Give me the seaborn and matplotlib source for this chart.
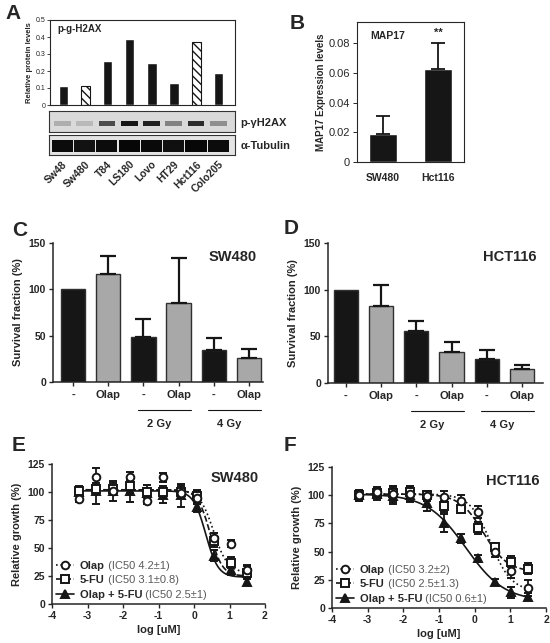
import numpy as np
import pandas as pd
import matplotlib
matplotlib.use('Agg')
import matplotlib.pyplot as plt
from matplotlib.lines import Line2D
import seaborn as sns

sns.set_style('ticks')
plt.rcParams['font.family'] = ['Liberation Sans', 'DejaVu Sans']
plt.rcParams['hatch.linewidth'] = 1.0

# ---- data ----
# A: relative p-gH2AX levels per cell line + blot band strength
cell_lines = ['Sw48', 'Sw480', 'T84', 'LS180', 'Lovo', 'HT29', 'Hct116', 'Colo205']
ph2ax_levels = [0.11, 0.11, 0.26, 0.39, 0.25, 0.13, 0.37, 0.19]
hatched_lines = ['Sw480', 'Hct116']
ph2ax_band = [0.2, 0.15, 0.65, 0.9, 0.85, 0.4, 0.8, 0.35]
tubulin_band = [0.95, 0.92, 0.95, 0.97, 0.96, 0.93, 0.97, 0.95]

# B: MAP17 expression
map17_lines = ['SW480', 'Hct116']
map17_expr = [0.019, 0.063]
map17_err = [0.012, 0.017]

# C / D: survival fraction
treat_labels = ['-', 'Olap', '-', 'Olap', '-', 'Olap']
dose_groups = ['2 Gy', '4 Gy']
sw480_surv = [100, 117, 49, 85, 35, 26]
sw480_surv_err = [0, 19, 19, 49, 13, 10]
hct116_surv = [100, 83, 56, 33, 26, 15]
hct116_surv_err = [0, 22, 10, 11, 9, 4]

# E / F: dose response
log_dose = [-3.25, -2.75, -2.28, -1.8, -1.33, -0.87, -0.38, 0.09, 0.56, 1.03, 1.5]
sw480_olap = [94, 113, 101, 113, 92, 113, 99, 95, 59, 54, 30]
sw480_olap_err = [3, 8, 4, 5, 3, 4, 4, 6, 4, 3, 5]
sw480_fu = [101, 103, 103, 105, 100, 100, 100, 96, 56, 37, 28]
sw480_fu_err = [4, 5, 5, 6, 4, 5, 5, 6, 5, 5, 6]
sw480_combo = [100, 101, 101, 101, 99, 97, 97, 87, 43, 30, 20]
sw480_combo_err = [3, 12, 9, 10, 7, 7, 10, 5, 5, 4, 3]
hct116_olap = [100, 103, 101, 101, 99, 98, 95, 85, 50, 33, 18]
hct116_olap_err = [4, 4, 7, 6, 4, 6, 5, 5, 5, 6, 7]
hct116_fu = [100, 102, 102, 103, 100, 90, 88, 71, 54, 41, 35]
hct116_fu_err = [5, 4, 6, 5, 4, 5, 4, 5, 4, 5, 5]
hct116_combo = [100, 101, 99, 100, 93, 75, 62, 44, 23, 14, 10]
hct116_combo_err = [5, 5, 7, 6, 7, 8, 4, 3, 3, 5, 3]

# fitted curves (top, bottom, midpoint, hill)
sw480_fit = {'olap': (102, 28, 0.55, 2.2), 'fu': (102, 25, 0.45, 2.5), 'combo': (101, 24, 0.33, 2.5)}
hct116_fit = {'olap': (101, 15, 0.45, 1.5), 'fu': (101, 32, 0.25, 1.3), 'combo': (101, 6, -0.25, 0.8)}
sw480_ic50 = ['(IC50 4.2\u00b11)', '(IC50 3.1\u00b10.8)', '(IC50 2.5\u00b11)']
hct116_ic50 = ['(IC50 3.2\u00b12)', '(IC50 2.5\u00b11.3)', '(IC50 0.6\u00b11)']

BLACK = '#161616'
GREY = '#a8a8a8'

fig = plt.figure(figsize=(5.5, 6.43), dpi=100)


def px(l, t, r, b):
    # figure axes from pixel box
    return fig.add_axes([l / 550, 1 - b / 643, (r - l) / 550, (b - t) / 643])


# ---------- A ----------
axA = px(50, 20, 235, 105)
dfA = pd.DataFrame({'line': cell_lines, 'level': ph2ax_levels})
sns.barplot(data=dfA, x='line', y='level', color=BLACK, width=0.42, saturation=1, ax=axA)
for patch, name in zip(axA.patches, cell_lines):
    if name in hatched_lines:
        patch.set_facecolor('white')
        patch.set_edgecolor(BLACK)
        patch.set_hatch('\\\\\\\\')
        patch.set_linewidth(0.8)
axA.set_xlim(-0.6, 7.75)
axA.set_ylim(0, 0.5)
axA.set_yticks([0, 0.1, 0.2, 0.3, 0.4, 0.5])
axA.set_yticklabels(['0', '0.1', '0.2', '0.3', '0.4', '0.5'], fontsize=5)
axA.set_xticks([])
axA.set_xlabel('')
axA.set_ylabel('Relative protein levels', fontsize=5.5, fontweight='bold', labelpad=2)
axA.tick_params(axis='y', length=2, width=0.6, pad=1)
for s in axA.spines.values():
    s.set_linewidth(0.8)
axA.text(0.04, 0.9, 'p-g-H2AX', transform=axA.transAxes, fontsize=7, fontweight='bold', va='center')

blot1 = px(49, 111, 235, 132)
blot2 = px(49, 135, 235, 155)
for ax, band, bot, hgt, wid, bg in [(blot1, ph2ax_band, 0.3, 0.22, 0.75, '#dadada'),
                                     (blot2, tubulin_band, 0.15, 0.62, 0.95, '#e4e4e4')]:
    ax.set_facecolor(bg)
    ax.bar(range(len(band)), [hgt] * len(band), bottom=bot, width=wid, color='black', linewidth=0)
    for patch, a in zip(ax.patches, band):
        patch.set_alpha(a)
    ax.set_xlim(-0.6, 7.75)
    ax.set_ylim(0, 1)
    ax.set_yticks([])
    for s in ax.spines.values():
        s.set_linewidth(0.8)
        s.set_color('#333333')
blot1.set_xticks([])
blot2.set_xticks(range(len(cell_lines)))
blot2.set_xticklabels(cell_lines, rotation=45, ha='right', rotation_mode='anchor',
                      fontsize=7.5, fontweight='bold')
blot2.tick_params(axis='x', length=0, pad=3)
blot1.text(1.03, 0.45, 'p-\u03b3H2AX', transform=blot1.transAxes, fontsize=8, fontweight='bold', va='center')
blot2.text(1.03, 0.45, '\u03b1-Tubulin', transform=blot2.transAxes, fontsize=8, fontweight='bold', va='center')

# ---------- B ----------
axB = px(357, 22, 464, 162)
dfB = pd.DataFrame({'line': map17_lines, 'expr': map17_expr})
sns.barplot(data=dfB, x='line', y='expr', color=BLACK, width=0.5, saturation=1, ax=axB)
axB.errorbar(range(2), map17_expr, yerr=[[0, 0], map17_err], fmt='none', ecolor=BLACK,
             capsize=5, elinewidth=1.3, capthick=1.3)
axB.set_xlim(-0.46, 1.46)
axB.set_ylim(0, 0.0945)
axB.set_yticks([0, 0.02, 0.04, 0.06, 0.08])
axB.set_yticklabels(['0', '0.02', '0.04', '0.06', '0.08'], fontsize=8)
axB.set_xticklabels(map17_lines, fontsize=7.5, fontweight='bold')
axB.tick_params(axis='x', length=0, pad=8)
axB.tick_params(axis='y', length=3, width=0.7, pad=2)
axB.set_xlabel('')
axB.set_ylabel('MAP17 Expression levels', fontsize=7, fontweight='bold', labelpad=2)
for s in axB.spines.values():
    s.set_linewidth(0.8)
axB.text(0.12, 0.9, 'MAP17', transform=axB.transAxes, fontsize=7.5, fontweight='bold', va='center')
axB.text(1, 0.087, '**', ha='center', va='center', fontsize=8, fontweight='bold')


# ---------- C / D ----------
def survival(ax, vals, errs, title, xl):
    colors = [BLACK, GREY] * 3
    sns.barplot(x=np.arange(6), y=vals, hue=np.arange(6), palette=colors, legend=False,
                width=0.69, saturation=1, edgecolor='#303030', linewidth=1, ax=ax)
    idx = [i for i, e in enumerate(errs) if e > 0]
    ax.errorbar(idx, [vals[i] for i in idx], yerr=[[0] * len(idx), [errs[i] for i in idx]],
                fmt='none', ecolor=BLACK, capsize=5.5, elinewidth=1.6, capthick=1.6, zorder=1)
    ax.set_xlim(*xl)
    ax.set_ylim(0, 150)
    ax.set_yticks([0, 50, 100, 150])
    ax.set_yticklabels(['0', '50', '100', '150'], fontsize=7.5, fontweight='bold')
    ax.set_xticks(range(6))
    ax.set_xticklabels(treat_labels, fontsize=8, fontweight='bold')
    ax.tick_params(axis='x', length=3, width=1, pad=3)
    ax.tick_params(axis='y', length=3, width=1, pad=2)
    ax.set_ylabel('Survival fraction (%)', fontsize=8, fontweight='bold', labelpad=4)
    sns.despine(ax=ax)
    for s in ['left', 'bottom']:
        ax.spines[s].set_linewidth(1.1)
    ax.text(0.97, 0.9, title, transform=ax.transAxes, ha='right', va='center',
            fontsize=10.5, fontweight='bold')
    tr = ax.get_xaxis_transform()
    for i, g in enumerate(dose_groups):
        x0 = 1.85 + 2 * i
        ax.plot([x0, x0 + 1.5], [-0.2, -0.2], transform=tr, color=BLACK, lw=0.8, clip_on=False)
        ax.text(x0 + 0.6, -0.3, g, transform=tr, ha='center', va='center',
                fontsize=8, fontweight='bold')


axC = px(53, 243, 263, 382)
survival(axC, sw480_surv, sw480_surv_err, 'SW480', (-0.57, 5.4))
axD = px(328, 243, 543, 383)
survival(axD, hct116_surv, hct116_surv_err, 'HCT116', (-0.51, 5.6))


# ---------- E / F ----------
def dose_response(ax, series, fits, ic50, title):
    xs = np.linspace(-3.3, 1.55, 200)
    styles = {'olap': ('o', 'white', ':'), 'fu': ('s', 'white', '--'), 'combo': ('^', BLACK, '-')}
    for key in ['combo', 'fu', 'olap']:
        top, bot, mid, hill = fits[key]
        yfit = bot + (top - bot) / (1 + 10 ** (hill * (xs - mid)))
        sns.lineplot(x=xs, y=yfit, ax=ax, color=BLACK, linestyle=styles[key][2], lw=1.2)
    for key in ['combo', 'fu', 'olap']:
        vals, errs = series[key]
        m, fc, _ = styles[key]
        ax.errorbar(log_dose, vals, yerr=errs, fmt=m, mfc=fc, mec=BLACK, ecolor=BLACK,
                    ms=5.5, mew=1.4, capsize=3, elinewidth=1.3, capthick=1.3)
    ax.set_xlim(-4, 2)
    ax.set_ylim(0, 125)
    ax.set_xticks(range(-4, 3))
    ax.set_xticklabels([str(v) for v in range(-4, 3)], fontsize=7.5, fontweight='bold')
    ax.set_yticks([0, 25, 50, 75, 100, 125])
    ax.set_yticklabels(['0', '25', '50', '75', '100', '125'], fontsize=7.5, fontweight='bold')
    ax.tick_params(length=3, width=1, pad=2)
    ax.set_xlabel('log [uM]', fontsize=8, fontweight='bold', labelpad=3)
    ax.set_ylabel('Relative growth (%)', fontsize=8, fontweight='bold', labelpad=4)
    sns.despine(ax=ax)
    for s in ['left', 'bottom']:
        ax.spines[s].set_linewidth(1.1)
    ax.text(0.97, 0.9, title, transform=ax.transAxes, ha='right', va='center',
            fontsize=10.5, fontweight='bold')
    handles = [Line2D([], [], color=BLACK, ls=styles[k][2], marker=styles[k][0], mfc=styles[k][1],
                      mec=BLACK, ms=5.5, mew=1.4, lw=1.2) for k in ['olap', 'fu', 'combo']]
    leg = ax.legend(handles, ['Olap', '5-FU', 'Olap + 5-FU'], loc='lower left', frameon=False,
                    prop={'weight': 'bold', 'size': 8}, handlelength=1.6, handletextpad=0.5,
                    labelspacing=0.4, borderaxespad=0.2, borderpad=0.2)
    # IC50 part in regular grey text, drawn after the legend is laid out
    for txt, lab in zip(leg.get_texts(), ic50):
        ax.annotate(' ' + lab, xy=(1, 0), xycoords=txt, va='bottom', ha='left',
                    fontsize=8, color='#5a5a5a', annotation_clip=False, zorder=20)


axE = px(52, 464, 265, 604)
dose_response(axE, {'olap': (sw480_olap, sw480_olap_err), 'fu': (sw480_fu, sw480_fu_err),
                    'combo': (sw480_combo, sw480_combo_err)}, sw480_fit, sw480_ic50, 'SW480')
axF = px(332, 467, 546, 608)
dose_response(axF, {'olap': (hct116_olap, hct116_olap_err), 'fu': (hct116_fu, hct116_fu_err),
                    'combo': (hct116_combo, hct116_combo_err)}, hct116_fit, hct116_ic50, 'HCT116')

# panel letters
for letter, x, y in [('A', 5, 4), ('B', 290, 14), ('C', 12, 221), ('D', 284, 219),
                     ('E', 12, 436), ('F', 284, 436)]:
    fig.text(x / 550, 1 - y / 643, letter, fontsize=15, fontweight='bold', va='top', ha='left')

plt.savefig('out.png', dpi=100)
